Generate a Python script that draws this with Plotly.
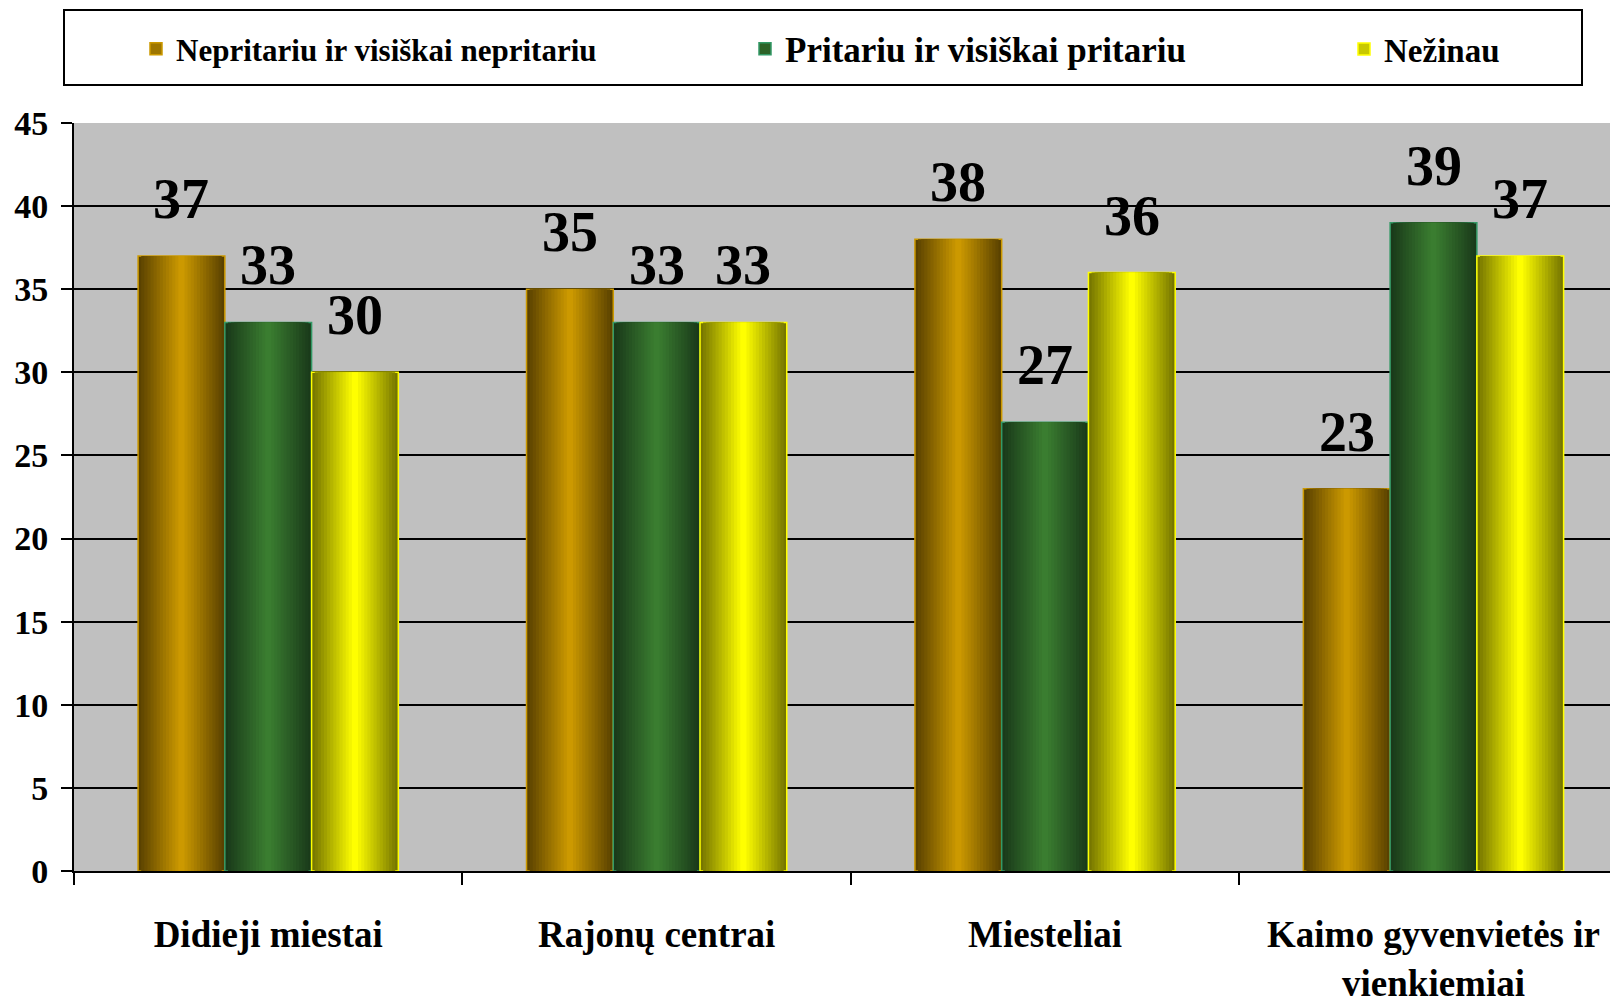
import plotly.graph_objects as go

# categories and series values
categories = ["Didieji miestai", "Rajonų centrai", "Miesteliai", "Kaimo gyvenvietės ir<br>vienkiemiai"]
series_names = ["Nepritariu ir visiškai nepritariu", "Pritariu ir visiškai pritariu", "Nežinau"]
nepritariu = [37, 35, 38, 23]
pritariu = [33, 33, 27, 39]
nezinau = [30, 33, 36, 37]

# edge colour, centre colour, outline colour, legend font size, legend x (px)
styles = [
    ("#5a4200", "#cc9900", "#cc9900", 31, 128),
    ("#1a3a1a", "#3a7d30", "#339966", 35, 737),
    ("#767600", "#ffff00", "#ffff00", 33, 1336),
]

# the page body adds an 8px margin, so the figure is 8px smaller
W, H = 1610, 991
L, R, T, B = 66, 0, 115, 128
x_range = [-0.5, 3.475]  # last group runs a little past the right edge
group = 0.67
bw = group / 3
px_cat = (W - L - R) / (x_range[1] - x_range[0])


def mix(c1, c2, t):
    a = [int(c1[i:i + 2], 16) for i in (1, 3, 5)]
    b = [int(c2[i:i + 2], 16) for i in (1, 3, 5)]
    return "#%02x%02x%02x" % tuple(round(a[j] + (b[j] - a[j]) * t) for j in range(3))


fig = go.Figure()
nlayers = 14
all_values = [nepritariu, pritariu, nezinau]
legend_ids = ["legend", "legend2", "legend3"]
for i, (name, vals) in enumerate(zip(series_names, all_values)):
    edge, centre, outline, fsize, lx = styles[i]
    centre_off = (i - 1) * bw
    # nested bars fake the horizontal gradient
    for k in range(nlayers):
        frac = 1 - k / nlayers
        w = bw * frac
        fig.add_trace(go.Bar(
            x=categories, y=vals, width=w, offset=centre_off - w / 2,
            marker=dict(color=mix(edge, centre, k / (nlayers - 1)),
                        line=dict(color=outline if k == 0 else "rgba(0,0,0,0)", width=1.5 if k == 0 else 0)),
            showlegend=False, hoverinfo="skip" if k else None,
            name=name,
        ))
    # legend entry only, each in its own legend box
    fig.add_trace(go.Bar(
        x=[categories[0]], y=[None], name=name, legend=legend_ids[i],
        marker=dict(color=mix(edge, centre, 0.6), line=dict(color=outline, width=1.5)),
        showlegend=True,
    ))
    fig.update_layout({legend_ids[i]: dict(
        xref="container", yref="container",
        x=lx / W, xanchor="left", y=1 - 41 / H, yanchor="middle",
        bgcolor="rgba(0,0,0,0)", font=dict(size=fsize, weight="bold"),
    )})
    for c, v in zip(categories, vals):
        fig.add_annotation(
            x=c, y=v, xref="x", yref="y", text=str(v), showarrow=False,
            xshift=centre_off * px_cat, yshift=24, yanchor="bottom",
            font=dict(family="Liberation Serif", size=56, color="black", weight="bold"),
        )

# legend frame
fig.add_shape(type="rect", xref="paper", yref="paper",
              x0=(56 - L) / (W - L), x1=(1574 - L) / (W - L),
              y0=(H - B - 77) / (H - T - B), y1=(H - B - 2) / (H - T - B),
              line=dict(color="black", width=2), fillcolor="white", layer="below")

fig.update_layout(
    width=W, height=H,
    margin=dict(l=L, r=R, t=T, b=B, autoexpand=False),
    barmode="overlay",
    paper_bgcolor="white",
    plot_bgcolor="#c0c0c0",
    font=dict(family="Liberation Serif", color="black", weight="bold"),
    showlegend=True,
)
fig.update_xaxes(
    type="category", tickson="boundaries", ticks="outside", ticklen=12, tickwidth=2,
    tickcolor="black", showline=True, linecolor="black", linewidth=2,
    ticklabelstandoff=30, tickfont=dict(size=37, weight="bold"),
    range=x_range, automargin=False,
)
fig.update_yaxes(
    range=[0, 45], dtick=5, ticks="outside", ticklen=11, tickwidth=2, tickcolor="black",
    showline=True, linecolor="black", linewidth=2,
    gridcolor="black", gridwidth=2, zeroline=False,
    ticklabelstandoff=6, tickfont=dict(size=34, weight="bold"), automargin=False,
)

fig.write_html("out.html")
